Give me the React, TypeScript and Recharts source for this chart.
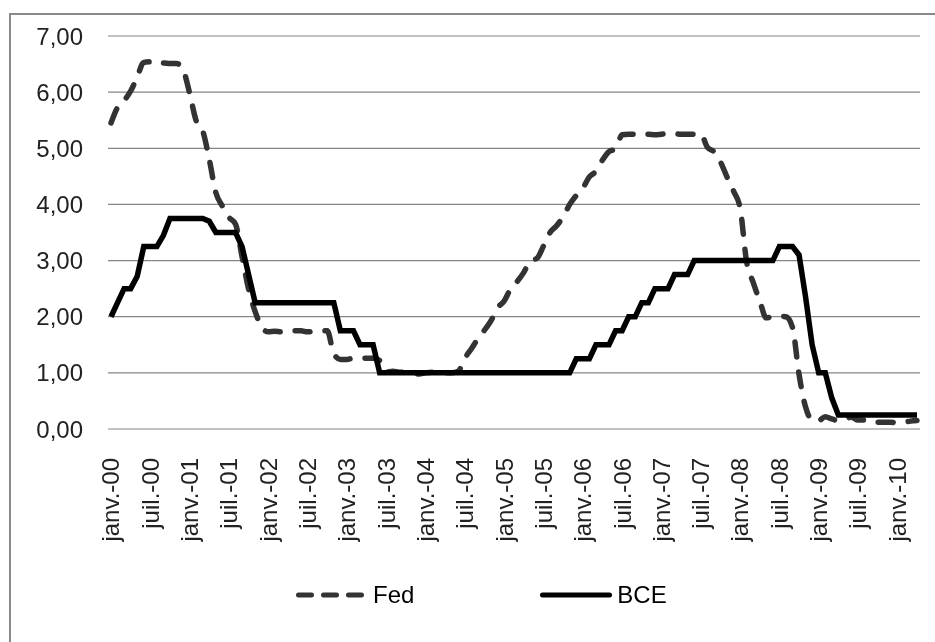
import { LineChart, Line, XAxis, YAxis, CartesianGrid, Legend } from 'recharts';

// monthly rates, janv. 2000 -> avr. 2010
const monthNames = ['janv.', 'févr.', 'mars', 'avr.', 'mai', 'juin', 'juil.', 'août', 'sept.', 'oct.', 'nov.', 'déc.'];
const years = ['00', '01', '02', '03', '04', '05', '06', '07', '08', '09', '10'];

const fed = [
  5.45, 5.73, 5.85, 6.02, 6.27, 6.53, 6.54, 6.5, 6.52, 6.51, 6.51, 6.4,
  5.98, 5.49, 5.31, 4.8, 4.21, 3.97, 3.77, 3.65, 3.07, 2.49, 2.09, 1.82,
  1.73, 1.74, 1.73, 1.75, 1.75, 1.75, 1.73, 1.74, 1.75, 1.75, 1.34, 1.24,
  1.24, 1.26, 1.25, 1.26, 1.26, 1.22, 1.01, 1.03, 1.01, 1.01, 1.0, 0.98,
  1.0, 1.01, 1.0, 1.0, 1.0, 1.03, 1.26, 1.43, 1.61, 1.76, 1.93, 2.16,
  2.28, 2.5, 2.63, 2.79, 3.0, 3.04, 3.26, 3.5, 3.62, 3.78, 4.0, 4.16,
  4.29, 4.49, 4.59, 4.79, 4.94, 4.99, 5.24, 5.25, 5.25, 5.25, 5.25, 5.24,
  5.25, 5.26, 5.26, 5.25, 5.25, 5.25, 5.26, 5.02, 4.94, 4.76, 4.49, 4.24,
  3.94, 2.98, 2.61, 2.28, 1.98, 2.0, 2.01, 2.0, 1.81, 0.97, 0.39, 0.16,
  0.15, 0.22, 0.18, 0.15, 0.18, 0.21, 0.16, 0.16, 0.15, 0.12, 0.12, 0.12,
  0.11, 0.12, 0.14, 0.15,
];

const bce = [
  2.0, 2.25, 2.5, 2.5, 2.72, 3.25, 3.25, 3.25, 3.45, 3.75, 3.75, 3.75,
  3.75, 3.75, 3.75, 3.7, 3.5, 3.5, 3.5, 3.5, 3.25, 2.75, 2.25, 2.25,
  2.25, 2.25, 2.25, 2.25, 2.25, 2.25, 2.25, 2.25, 2.25, 2.25, 2.25, 1.75,
  1.75, 1.75, 1.5, 1.5, 1.5, 1.0, 1.0, 1.0, 1.0, 1.0, 1.0, 1.0,
  1.0, 1.0, 1.0, 1.0, 1.0, 1.0, 1.0, 1.0, 1.0, 1.0, 1.0, 1.0,
  1.0, 1.0, 1.0, 1.0, 1.0, 1.0, 1.0, 1.0, 1.0, 1.0, 1.0, 1.25,
  1.25, 1.25, 1.5, 1.5, 1.5, 1.75, 1.75, 2.0, 2.0, 2.25, 2.25, 2.5,
  2.5, 2.5, 2.75, 2.75, 2.75, 3.0, 3.0, 3.0, 3.0, 3.0, 3.0, 3.0,
  3.0, 3.0, 3.0, 3.0, 3.0, 3.0, 3.25, 3.25, 3.25, 3.1, 2.35, 1.5,
  1.0, 1.0, 0.55, 0.25, 0.25, 0.25, 0.25, 0.25, 0.25, 0.25, 0.25, 0.25,
  0.25, 0.25, 0.25, 0.25,
];

const yTicks = [0, 1, 2, 3, 4, 5, 6, 7];

const months: string[] = [];
years.forEach((y) => monthNames.forEach((m) => months.push(`${m}-${y}`)));

const data = fed.map((v, i) => ({ month: months[i], fed: v, bce: bce[i] }));

const FONT = '"Liberation Sans", Arial, sans-serif';

function XTick({ x, y, payload }: any) {
  return (
    <text
      x={x}
      y={y}
      dy="0.35em"
      textAnchor="end"
      transform={`rotate(-90, ${x}, ${y})`}
      fill="#222"
      fontSize={24}
      fontFamily={FONT}
    >
      {payload.value}
    </text>
  );
}

function LegendBox() {
  return (
    <div
      style={{
        display: 'flex',
        alignItems: 'center',
        height: 40,
        paddingLeft: 288,
        fontFamily: FONT,
        fontSize: 24,
        color: '#000',
      }}
    >
      <svg width={68} height={10}>
        <line x1={2.5} y1={5} x2={65.5} y2={5} stroke="#333" strokeWidth={5} strokeDasharray="13 12" strokeLinecap="round" />
      </svg>
      <span style={{ marginLeft: 9 }}>Fed</span>
      <svg width={72} height={10} style={{ marginLeft: 126 }}>
        <line x1={2.5} y1={5} x2={69.5} y2={5} stroke="#000" strokeWidth={5} strokeLinecap="round" />
      </svg>
      <span style={{ marginLeft: 5 }}>BCE</span>
    </div>
  );
}

export default function App() {
  return (
    <div style={{ position: 'relative', width: 919, height: 626 }}>
      <div
        style={{
          position: 'fixed',
          left: 9,
          top: 13,
          width: 2000,
          height: 2000,
          borderLeft: '2px solid #8a8a8a',
          borderTop: '2px solid #8a8a8a',
        }}
      />
      <LineChart width={919} height={626} data={data} margin={{ top: 28, right: 7, bottom: 19, left: 0 }}>
        <CartesianGrid vertical={false} stroke="#858585" strokeWidth={1.2} />
        <XAxis
          dataKey="month"
          interval={5}
          tickLine={false}
          axisLine={false}
          height={146}
          tickMargin={23}
          padding={{ left: 3, right: 3 }}
          tick={<XTick />}
        />
        <YAxis
          domain={[0, 7]}
          ticks={yTicks}
          width={100}
          tickLine={false}
          axisLine={false}
          tickMargin={19}
          tickFormatter={(v: number) => v.toFixed(2).replace('.', ',')}
          tick={{ fontSize: 24, fill: '#222', fontFamily: FONT }}
        />
        <Legend verticalAlign="bottom" content={() => <LegendBox />} />
        <Line
          type="monotone"
          dataKey="fed"
          name="Fed"
          stroke="#333"
          strokeWidth={5.5}
          strokeDasharray="15 15"
          strokeLinecap="round"
          dot={false}
          activeDot={false}
          isAnimationActive={false}
        />
        <Line
          type="linear"
          dataKey="bce"
          name="BCE"
          stroke="#000"
          strokeWidth={5.5}
          dot={false}
          activeDot={false}
          isAnimationActive={false}
        />
      </LineChart>
    </div>
  );
}
